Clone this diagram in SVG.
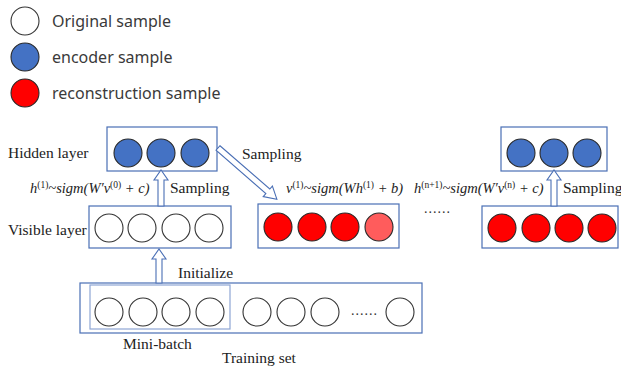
<svg xmlns="http://www.w3.org/2000/svg" width="621" height="369" viewBox="0 0 621 369">
  <style>
    .box { fill: #ffffff; stroke: #4a6fb5; stroke-width: 1.2; }
    .mini { fill: none; stroke: #8ea6d4; stroke-width: 1.2; }
    .orig { fill: #ffffff; stroke: #333333; stroke-width: 1.1; }
    .enc { fill: #4472c4; stroke: #2a2a2a; stroke-width: 1.1; }
    .rec { fill: #ff0000; stroke: #2a2a2a; stroke-width: 1.1; }
    .rec2 { fill: #ff5c5c; stroke: #2a2a2a; stroke-width: 1.1; }
    .legend { font-family: "Noto Sans", "Liberation Sans", sans-serif; font-size: 16px; fill: #3a3a3a; }
    .lbl { font-family: "Liberation Serif", serif; font-size: 15.5px; fill: #222222; }
    .math { font-family: "Liberation Serif", serif; font-style: italic; font-size: 14.5px; fill: #222222; }
    .sup { font-size: 9.5px; font-style: normal; }
    .arrow { fill: #ffffff; stroke: #4a6fb5; stroke-width: 1.1; stroke-linejoin: miter; }
    .dots { font-family: "Liberation Serif", serif; font-size: 14px; fill: #333333; letter-spacing: 1px; }
  </style>

  <!-- legend -->
  <g id="legend">
    <circle class="orig" cx="25" cy="21" r="14"/>
    <text class="legend" x="52" y="27">Original sample</text>
    <circle class="enc" cx="25" cy="57" r="14"/>
    <text class="legend" x="52" y="63">encoder sample</text>
    <circle class="rec" cx="25" cy="93" r="14"/>
    <text class="legend" x="52" y="99">reconstruction sample</text>
  </g>

  <!-- layer captions -->
  <text class="lbl" x="8" y="158">Hidden layer</text>
  <text class="lbl" x="8" y="235">Visible layer</text>

  <!-- first hidden layer -->
  <g id="hidden1">
    <rect class="box" x="107" y="127" width="110" height="44"/>
    <circle class="enc" cx="128" cy="153" r="14"/>
    <circle class="enc" cx="161" cy="153" r="14"/>
    <circle class="enc" cx="195" cy="153" r="14"/>
  </g>

  <!-- first visible layer -->
  <g id="visible0">
    <rect class="box" x="89" y="206" width="142" height="42"/>
    <circle class="orig" cx="109" cy="228" r="14"/>
    <circle class="orig" cx="142" cy="228" r="14"/>
    <circle class="orig" cx="176" cy="228" r="14"/>
    <circle class="orig" cx="209" cy="228" r="14"/>
  </g>

  <!-- reconstructed visible layer -->
  <g id="visible1">
    <rect class="box" x="258" y="204" width="141" height="44"/>
    <circle class="rec" cx="278" cy="227" r="14"/>
    <circle class="rec" cx="312" cy="227" r="14"/>
    <circle class="rec" cx="345" cy="227" r="14"/>
    <circle class="rec2" cx="379" cy="227" r="14"/>
  </g>

  <!-- n-th hidden layer -->
  <g id="hiddenN">
    <rect class="box" x="501" y="127" width="106" height="44"/>
    <circle class="enc" cx="521" cy="153" r="14"/>
    <circle class="enc" cx="554" cy="153" r="14"/>
    <circle class="enc" cx="587" cy="153" r="14"/>
  </g>

  <!-- n-th visible layer -->
  <g id="visibleN">
    <rect class="box" x="482" y="206" width="136" height="42"/>
    <circle class="rec" cx="502" cy="228" r="14"/>
    <circle class="rec" cx="536" cy="228" r="14"/>
    <circle class="rec" cx="569" cy="228" r="14"/>
    <circle class="rec" cx="602" cy="228" r="14"/>
  </g>

  <!-- training set with mini-batch -->
  <g id="training">
    <rect class="box" x="80" y="283" width="342" height="50"/>
    <rect class="mini" x="90" y="285" width="140" height="44"/>
    <circle class="orig" cx="109" cy="312" r="14"/>
    <circle class="orig" cx="143" cy="312" r="14"/>
    <circle class="orig" cx="176" cy="312" r="14"/>
    <circle class="orig" cx="210" cy="312" r="14"/>
    <circle class="orig" cx="257" cy="312" r="14"/>
    <circle class="orig" cx="291" cy="312" r="14"/>
    <circle class="orig" cx="325" cy="312" r="14"/>
    <text class="dots" x="351" y="315">......</text>
    <circle class="orig" cx="400" cy="312" r="14"/>
    <text class="lbl" x="123" y="349">Mini-batch</text>
    <text class="lbl" x="222" y="363">Training set</text>
  </g>

  <!-- connectors -->
  <g id="connectors">
    <!-- visible0 -> hidden1 -->
    <path class="arrow" d="M158,206 L158,180 L154,180 L161,170 L168,180 L164,180 L164,206 Z"/>
    <!-- training set -> visible0 -->
    <path class="arrow" d="M156,283 L156,259 L152,259 L159,249 L166,259 L162,259 L162,283 Z"/>
    <!-- visibleN -> hiddenN -->
    <path class="arrow" d="M551,206 L551,180 L547,180 L554,170 L561,180 L557,180 L557,206 Z"/>
    <!-- hidden1 -> visible1 (diagonal) -->
    <g transform="translate(218,148) rotate(41)">
      <path class="arrow" d="M0,-3 L66,-3 L66,-7 L78,0 L66,7 L66,3 L0,3 Z"/>
    </g>
  </g>

  <!-- arrow labels -->
  <text class="lbl" x="170" y="193">Sampling</text>
  <text class="lbl" x="242" y="159">Sampling</text>
  <text class="lbl" x="178" y="278">Initialize</text>
  <text class="lbl" x="563" y="193">Sampling</text>
  <text class="dots" x="424" y="213">......</text>

  <!-- equations -->
  <text class="math" x="30" y="193">h<tspan class="sup" dy="-5">(1)</tspan><tspan dy="5">~sigm(W′v</tspan><tspan class="sup" dy="-5">(0)</tspan><tspan dy="5"> + c)</tspan></text>
  <text class="math" x="286" y="193">v<tspan class="sup" dy="-5">(1)</tspan><tspan dy="5">~sigm(Wh</tspan><tspan class="sup" dy="-5">(1)</tspan><tspan dy="5"> + b)</tspan></text>
  <text class="math" x="414" y="193">h<tspan class="sup" dy="-5">(n+1)</tspan><tspan dy="5">~sigm(W′v</tspan><tspan class="sup" dy="-5">(n)</tspan><tspan dy="5"> + c)</tspan></text>
</svg>
